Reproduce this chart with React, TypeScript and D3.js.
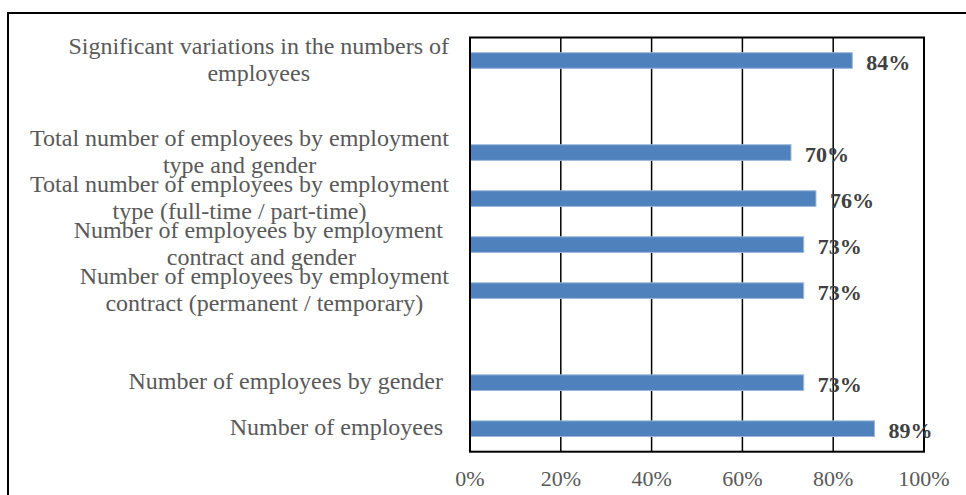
import { useEffect, useRef } from 'react'
import * as d3 from 'd3'

// categories top to bottom, blank rows are gaps in the original chart
const categories: string[][] = [
  ['Significant variations in the numbers of', 'employees'],
  [],
  ['Total number of employees by employment', 'type and gender'],
  ['Total number of employees by employment', 'type (full-time / part-time)'],
  ['Number of employees by employment ', 'contract and gender'],
  ['Number of employees by employment', 'contract (permanent / temporary)'],
  [],
  ['Number of employees by gender '],
  ['Number of employees '],
]
const values: (number | null)[] = [0.842, null, 0.707, 0.762, 0.735, 0.735, null, 0.735, 0.891]
const valueLabels: string[] = ['84%', '', '70%', '76%', '73%', '73%', '', '73%', '89%']
const xTicks: number[] = [0, 0.2, 0.4, 0.6, 0.8, 1]

const W = 966
const H = 495
const SERIF = '"Liberation Serif", "Times New Roman", serif'

const App = () => {
  const ref = useRef<SVGSVGElement>(null)

  useEffect(() => {
    if (!ref.current) return
    const svg = d3.select(ref.current)
    svg.selectAll('*').remove()

    const plot = { left: 470, right: 924, top: 37.5, bottom: 451.7 }

    const x = d3.scaleLinear().domain([0, 1]).range([plot.left, plot.right])
    const y = d3.scaleBand<number>()
      .domain(d3.range(categories.length))
      .range([plot.top, plot.bottom])
      .paddingInner(0.66)
      .paddingOuter(0.33)

    // outer chart border
    svg.append('rect')
      .attr('x', 8).attr('y', 13)
      .attr('width', W + 10).attr('height', H + 10)
      .attr('fill', 'white')
      .attr('stroke', 'black')
      .attr('stroke-width', 2)

    // gridlines
    svg.append('g')
      .selectAll('line')
      .data(xTicks.slice(1, -1))
      .join('line')
        .attr('x1', d => x(d)).attr('x2', d => x(d))
        .attr('y1', plot.top).attr('y2', plot.bottom)
        .attr('stroke', 'black')
        .attr('stroke-width', 1.5)

    // bars
    const rows = values.map((v, i) => ({ v, i })).filter(d => d.v !== null)
    svg.append('g')
      .selectAll('rect')
      .data(rows)
      .join('rect')
        .attr('x', x(0))
        .attr('y', d => y(d.i)!)
        .attr('width', d => x(d.v as number) - x(0))
        .attr('height', y.bandwidth())
        .attr('fill', '#4F81BD')
        .attr('stroke', '#9BB7DA')
        .attr('stroke-width', 1)

    // plot frame
    svg.append('rect')
      .attr('x', plot.left).attr('y', plot.top)
      .attr('width', plot.right - plot.left)
      .attr('height', plot.bottom - plot.top)
      .attr('fill', 'none')
      .attr('stroke', 'black')
      .attr('stroke-width', 2)

    // value labels
    svg.append('g')
      .selectAll('text')
      .data(rows)
      .join('text')
        .attr('x', d => x(d.v as number) + 14)
        .attr('y', d => y(d.i)! + y.bandwidth() / 2 + 9)
        .attr('font-family', SERIF)
        .attr('font-size', 22)
        .attr('font-weight', 'bold')
        .attr('fill', '#404040')
        .text(d => valueLabels[d.i])

    // x tick labels
    svg.append('g')
      .selectAll('text')
      .data(xTicks)
      .join('text')
        .attr('x', d => x(d))
        .attr('y', 486)
        .attr('text-anchor', 'middle')
        .attr('font-family', SERIF)
        .attr('font-size', 22)
        .attr('fill', '#595959')
        .text(d => d3.format('.0%')(d))

    // category labels: block right-aligned, lines centred in block
    const labelRight = 449
    const lineH = 27
    const g = svg.append('g')
    categories.forEach((lines, i) => {
      if (!lines.length) return
      const cy = y(i)! + y.bandwidth() / 2
      const t = g.append('text')
        .attr('font-family', SERIF)
        .attr('font-size', 24)
        .attr('fill', '#595959')
        .attr('text-anchor', 'middle')
        .style('white-space', 'pre')
      const spans = lines.map((line, k) =>
        t.append('tspan')
          .attr('y', cy + 6.5 + (k - (lines.length - 1) / 2) * lineH)
          .text(line)
      )
      const maxW = d3.max(spans, s => (s.node() as SVGTSpanElement).getComputedTextLength()) || 0
      spans.forEach(s => s.attr('x', labelRight - maxW / 2))
    })

    return () => {
      svg.selectAll('*').remove()
    }
  }, [])

  return (
    <svg
      ref={ref}
      width={W}
      height={H}
      style={{ position: 'absolute', left: 0, top: 0, background: 'white' }}
    />
  )
}

export default App
